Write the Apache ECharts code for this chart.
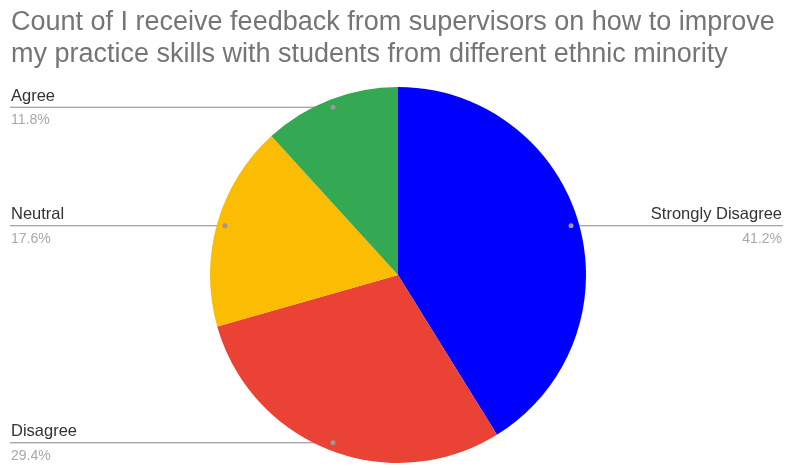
<!DOCTYPE html>
<html><head><meta charset="utf-8">
<script src="https://cdn.jsdelivr.net/npm/echarts@6/dist/echarts.min.js"></script>
<style>html,body{margin:0;padding:0;background:#fff}#c{width:785px;height:468px}</style>
</head><body><div id="c"></div>
<script>
const titleLines = ["Count of I receive feedback from supervisors on how to improve", "my practice skills with students from different ethnic minority"];
const categories = ["Strongly Disagree", "Disagree", "Neutral", "Agree"];
const counts = [7, 5, 3, 2];
const colors = ["#0000ff", "#ea4335", "#fbbc04", "#34a853"];

const W = 785, H = 468;
const cx = 398, cy = 275, R = 188;
const total = counts.reduce((a, b) => a + b, 0);
const mids = [];
let acc = 0;
counts.forEach(v => { mids.push((acc + v / 2) / total * 2 * Math.PI); acc += v; });
const dotR = R * 0.957;
const dots = mids.map(a => [cx + Math.sin(a) * dotR, cy - Math.cos(a) * dotR]);

const chart = echarts.init(document.getElementById('c'), null, {renderer: 'canvas'});
chart.setOption({
  animation: false,
  title: {
    text: titleLines.join('\n'), left: 6, top: 2,
    textStyle: {fontFamily: '"Liberation Sans"', fontSize: 27, fontWeight: 'normal', color: '#757575', lineHeight: 32}
  },
  series: [{
    type: 'pie', center: [cx, cy], radius: R, startAngle: 90, clockwise: true,
    data: categories.map((c, i) => ({name: c, value: counts[i], itemStyle: {color: colors[i]}})),
    label: {
      show: true,
      formatter: p => '{n|' + p.name + '}\n{p|' + (p.value / total * 100).toFixed(1) + '%}',
      rich: {
        n: {fontFamily: '"Liberation Sans"', fontSize: 16.5, color: '#333333', lineHeight: 22},
        p: {fontFamily: '"Liberation Sans"', fontSize: 14, color: '#a8a8a8', lineHeight: 26}
      }
    },
    labelLine: {show: true, lineStyle: {color: '#888888', width: 1}},
    labelLayout: function (params) {
      const i = params.dataIndex;
      const d = dots[i];
      const right = d[0] > cx;
      const ex = right ? W - 2 : 10;
      return {
        x: right ? W - 3 : 11, y: d[1] - 22, align: right ? 'right' : 'left', verticalAlign: 'top',
        labelLinePoints: [[d[0], d[1]], [d[0], d[1]], [ex, d[1]]]
      };
    }
  }],
  graphic: dots.map(d => ({type: 'circle', shape: {cx: d[0], cy: d[1], r: 2.5}, style: {fill: '#999999'}, z: 100}))
});
</script></body></html>
